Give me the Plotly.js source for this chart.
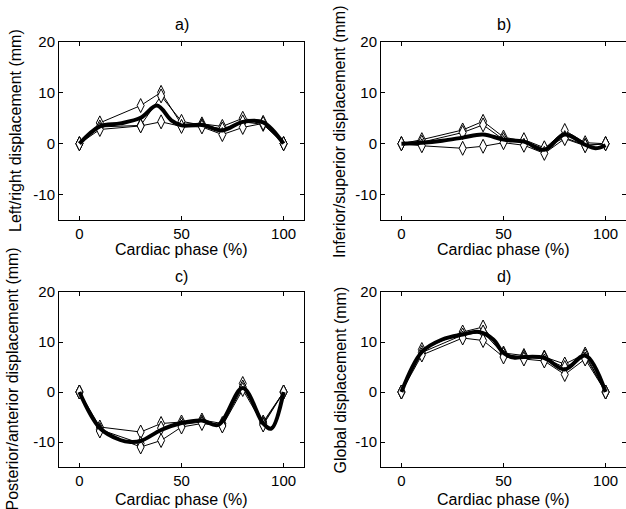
<!DOCTYPE html>
<html>
<head>
<meta charset="utf-8">
<script src="https://cdn.plot.ly/plotly-3.0.1.min.js"></script>
<style>html,body{margin:0;padding:0;background:#fff}#chart{width:626px;height:509px}</style>
</head>
<body>
<div id="chart"></div>
<script>
// Cardiac phases with measurements (%)
const phase = [0, 10, 30, 40, 50, 60, 70, 80, 90, 100];

// a) Left/right displacement (mm)
const a1 = [0, 4.1, 7.5, 10.1, 3.8, 3.9, 3.4, 5.0, 4.2, 0];
const a2 = [0, 3.3, 3.6, 9.4, 4.4, 3.6, 2.9, 4.3, 3.8, 0];
const a3 = [0, 2.8, 3.5, 4.3, 3.4, 3.3, 1.8, 3.2, 4.0, 0];
const aMeanX = [0, 10, 20, 30, 38, 45, 50, 60, 70, 80, 90, 100];
const aMean = [0, 3.4, 4.0, 5.1, 7.5, 4.6, 3.6, 3.7, 2.6, 4.3, 4.2, 0];

// b) Inferior/superior displacement (mm)
const b1 = [0, 0.8, 2.7, 4.4, 1.3, 0.5, -1.0, 2.6, 0.2, 0];
const b2 = [0, 0.3, 2.2, 3.7, 0.8, 0.8, -0.8, 1.2, -0.3, 0];
const b3 = [0, -0.4, -0.9, -0.5, 0.2, -0.3, -1.9, 1.0, -0.4, 0];
const bMeanX = [0, 10, 20, 30, 40, 50, 60, 70, 80, 90, 95, 100];
const bMean = [0, 0.2, 0.6, 1.2, 1.8, 0.8, 0.4, -1.2, 1.8, -0.2, -0.9, -0.3];

// c) Posterior/anterior displacement (mm)
const c1 = [0, -7.0, -8.0, -6.3, -6.0, -5.6, -6.3, 1.7, -6.0, 0];
const c2 = [0, -7.5, -10.3, -7.2, -6.5, -6.0, -6.6, 1.0, -6.3, 0];
const c3 = [0, -7.8, -11.0, -9.7, -7.0, -6.3, -6.8, 0.5, -6.6, 0];
const cMeanX = [0, 10, 20, 25, 30, 40, 50, 60, 68, 80, 90, 94, 100];
const cMean = [0, -7.2, -9.6, -10.0, -9.8, -7.6, -6.2, -5.7, -6.6, 0.8, -6.3, -7.3, 0];

// d) Global displacement (mm)
const d1 = [0, 8.5, 12.0, 13.0, 7.8, 7.3, 7.0, 5.6, 7.6, 0];
const d2 = [0, 7.9, 11.4, 12.0, 7.5, 7.0, 6.8, 4.9, 7.2, 0];
const d3 = [0, 7.4, 10.8, 10.3, 7.0, 6.6, 6.2, 3.5, 6.6, 0];
const dMeanX = [0, 10, 20, 30, 38, 45, 50, 55, 60, 70, 80, 90, 100];
const dMean = [0, 8.0, 10.5, 11.5, 12.0, 10.5, 7.8, 6.9, 7.0, 6.8, 4.5, 7.3, 0];

const xTicks = [0, 50, 100];
const yTicks = [-10, 0, 10, 20];
const panelTitles = ['a)', 'b)', 'c)', 'd)'];
const yLabels = ['Left/right displacement (mm)', 'Inferior/superior displacement (mm)',
                 'Posterior/anterior displacement (mm)', 'Global displacement (mm)'];
const xLabel = 'Cardiac phase (%)';

const FONT = 'Liberation Sans, Arial, sans-serif';
const W = 626, H = 509;

const panels = [
  {s: [a1, a2, a3], mx: aMeanX, m: aMean, x: 'x', y: 'y'},
  {s: [b1, b2, b3], mx: bMeanX, m: bMean, x: 'x2', y: 'y2'},
  {s: [c1, c2, c3], mx: cMeanX, m: cMean, x: 'x3', y: 'y3'},
  {s: [d1, d2, d3], mx: dMeanX, m: dMean, x: 'x4', y: 'y4'}
];

const traces = [];
panels.forEach(p => {
  p.s.forEach(v => traces.push({
    x: phase, y: v, xaxis: p.x, yaxis: p.y, type: 'scatter', mode: 'lines+markers',
    line: {color: '#000', width: 1},
    marker: {symbol: 'diamond-tall', size: 10, color: '#fff', line: {color: '#000', width: 1}},
    showlegend: false, hoverinfo: 'skip'
  }));
  traces.push({
    x: p.mx, y: p.m, xaxis: p.x, yaxis: p.y, type: 'scatter', mode: 'lines',
    line: {color: '#000', width: 4, shape: 'spline', smoothing: 1},
    showlegend: false, hoverinfo: 'skip'
  });
});

// panel boxes in pixels: [left, right, top, bottom]
const boxes = [[59, 304, 42, 220], [381, 626, 42, 220], [59, 304, 292, 467], [381, 626, 292, 467]];

const layout = {
  width: W, height: H, margin: {l: 0, r: 0, t: 0, b: 0},
  paper_bgcolor: '#fff', plot_bgcolor: '#fff',
  font: {family: FONT, size: 15, color: '#000'},
  annotations: []
};

const xLabPos = [249, 249, 499, 499];
const titlePos = [25, 25, 276, 276];
const yLabX = [16, 340, 12, 340];

boxes.forEach((b, i) => {
  const sfx = i === 0 ? '' : String(i + 1);
  const axCommon = {
    showgrid: false, zeroline: false, showline: true, linecolor: '#000', linewidth: 1,
    mirror: 'ticks', ticks: 'inside', ticklen: 4, tickcolor: '#000',
    tickfont: {family: FONT, size: 15, color: '#000'}, fixedrange: true
  };
  layout['xaxis' + sfx] = Object.assign({}, axCommon, {
    domain: [b[0] / W, b[1] / W], range: [-10, 110],
    tickvals: xTicks, ticktext: xTicks.map(String), anchor: 'y' + sfx
  });
  layout['yaxis' + sfx] = Object.assign({}, axCommon, {
    domain: [1 - b[3] / H, 1 - b[2] / H], range: [-15, 20],
    tickvals: yTicks, ticktext: yTicks.map(String), anchor: 'x' + sfx
  });
  const cx = (b[0] + b[1]) / 2 / W;
  layout.annotations.push({
    text: panelTitles[i], xref: 'paper', yref: 'paper', x: cx, y: 1 - titlePos[i] / H,
    xanchor: 'center', yanchor: 'middle', showarrow: false, font: {size: 16}
  });
  layout.annotations.push({
    text: xLabel, xref: 'paper', yref: 'paper', x: cx, y: 1 - xLabPos[i] / H,
    xanchor: 'center', yanchor: 'middle', showarrow: false, font: {size: 16}
  });
  layout.annotations.push({
    text: yLabels[i], xref: 'paper', yref: 'paper', x: yLabX[i] / W, y: 1 - (b[2] + b[3]) / 2 / H,
    xanchor: 'center', yanchor: 'middle', textangle: -90, showarrow: false, font: {size: 16}
  });
});

Plotly.newPlot('chart', traces, layout, {staticPlot: true, displayModeBar: false});
</script>
</body>
</html>
